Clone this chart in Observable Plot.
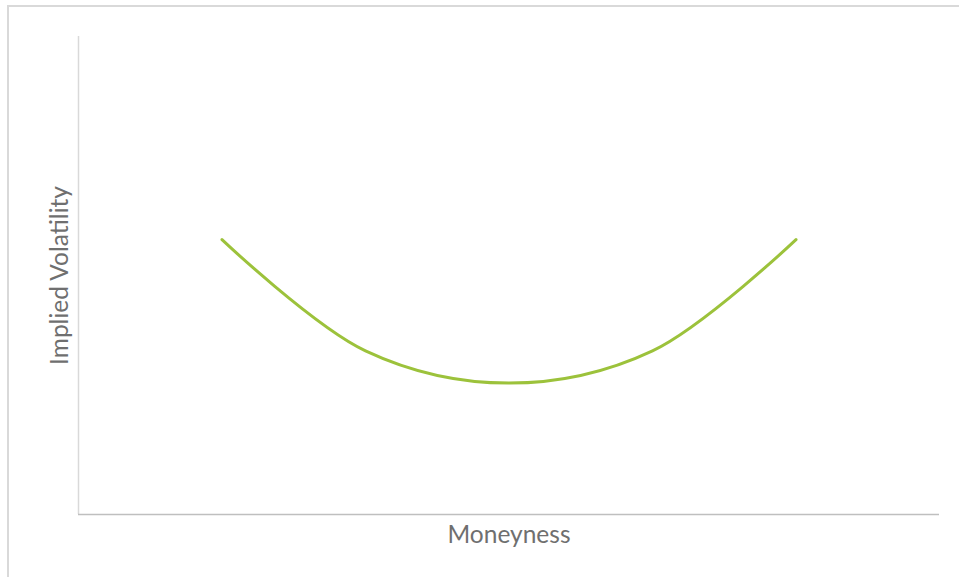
<!DOCTYPE html>
<html>
<head>
<meta charset="utf-8">
<script src="https://cdn.jsdelivr.net/npm/d3@7"></script>
<script src="https://cdn.jsdelivr.net/npm/@observablehq/plot@0.6"></script>
<style>
  html, body { margin: 0; padding: 0; background: #fff; overflow: hidden; }
  #wrap { position: relative; width: 959px; height: 577px; }
  #frame { position: absolute; left: 7px; top: 5px; width: 980px; height: 600px;
           border-left: 2px solid #d9d9d9; border-top: 2px solid #d9d9d9; box-sizing: border-box; }
  #chart { position: absolute; left: 0; top: 0; }
</style>
</head>
<body>
<div id="wrap"><div id="frame"></div><div id="chart"></div></div>
<script>
// Moneyness positions (arbitrary units) and implied volatility (arbitrary units)
const moneyness = [2, 4, 6, 8, 10];
const impliedVol = [23, 13.7, 11, 13.7, 23];
const xLabel = "Moneyness";
const yLabel = "Implied Volatility";

const data = moneyness.map((m, i) => ({m, v: impliedVol[i]}));

const chart = Plot.plot({
  width: 959,
  height: 577,
  marginLeft: 78,
  marginRight: 20,
  marginTop: 36,
  marginBottom: 63,
  style: {fontFamily: "Lato, 'Open Sans', sans-serif", background: "transparent"},
  x: {domain: [0, 12], axis: null},
  y: {domain: [0, 40], axis: null},
  marks: [
    Plot.ruleX([0], {stroke: "#d9d9d9", strokeWidth: 1.5, y1: 0, y2: 40}),
    Plot.ruleY([0], {stroke: "#bfbfbf", strokeWidth: 1.5, x1: 0, x2: 12}),
    Plot.line(data, {x: "m", y: "v", stroke: "#9cc23b", strokeWidth: 3, curve: "catmull-rom", strokeLinecap: "round"}),
    Plot.text([xLabel], {frameAnchor: "bottom", dy: 21, text: d => d, fontSize: 24.5, fill: "#6f6f6f", textAnchor: "middle", lineAnchor: "middle"}),
    Plot.text([yLabel], {frameAnchor: "left", dx: -18, rotate: -90, text: d => d, fontSize: 24.5, fill: "#6f6f6f", textAnchor: "middle", lineAnchor: "middle"})
  ]
});
document.getElementById("chart").appendChild(chart);
</script>
</body>
</html>
